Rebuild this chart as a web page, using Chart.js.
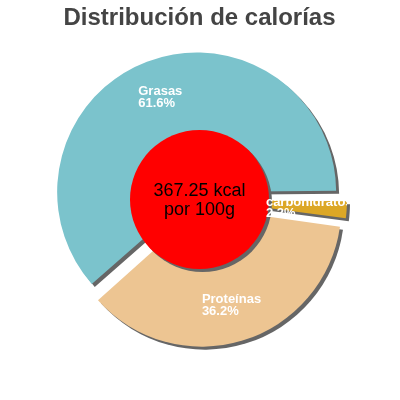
<!DOCTYPE html>
<html lang="es">
<head>
    <meta charset="UTF-8">
    <title>Distribución de calorías</title>
    <script src="https://cdn.jsdelivr.net/npm/chart.js"></script>
    <style>
        html, body { margin: 0; padding: 0; background: #fff; }
        #wrap { width: 400px; height: 400px; }
    </style>
</head>
<body>
    <div id="wrap"><canvas id="caloriesChart"></canvas></div>

    <script>
        // Data (clockwise from 3 o'clock)
        const categories = ['carbohidratos', 'Proteínas', 'Grasas'];
        const percentages = [2.2, 36.2, 61.6];
        const centerLines = ['367.25 kcal', 'por 100g'];
        const chartTitle = 'Distribución de calorías';

        const sliceColors = ['#dca726', '#edc592', '#7bc3cc'];
        const FONT = "'Liberation Sans', Arial, Helvetica, sans-serif";
        const RADIUS = 139.5;      // outer radius of the pie
        const SLICE_SHIFT = 8;     // how far each slice is pulled out
        const DISC_RADIUS = 69.5;  // red centre disc
        const LABEL_DIST = 110;    // label centre from pie centre
        const LABEL_CLIP_RIGHT = 347;

        function setShadow(chart, ctx) {
            const dpr = chart.currentDevicePixelRatio || 1;
            ctx.shadowColor = '#666666';
            ctx.shadowBlur = 0;
            ctx.shadowOffsetX = 3 * dpr;
            ctx.shadowOffsetY = 3 * dpr;
        }

        // Chart.js also grows a slice's radius when it is offset;
        // undo that so every slice keeps the same radius, and add the shadow
        const sliceLook = {
            id: 'sliceLook',
            beforeDatasetsDraw(chart) {
                chart.getDatasetMeta(0).data.forEach(arc => {
                    const fix = 1 - Math.sin(Math.min(Math.PI, arc.circumference));
                    arc.outerRadius = RADIUS - SLICE_SHIFT * fix;
                });
                chart.ctx.save();
                setShadow(chart, chart.ctx);
            },
            afterDatasetsDraw(chart) {
                chart.ctx.restore();
            }
        };

        const sliceLabels = {
            id: 'sliceLabels',
            afterDatasetsDraw(chart) {
                const ctx = chart.ctx;
                const arcs = chart.getDatasetMeta(0).data;
                const cx = arcs[0].x;
                const cy = arcs[0].y;

                // red centre disc
                ctx.save();
                setShadow(chart, ctx);
                ctx.beginPath();
                ctx.arc(cx, cy, DISC_RADIUS, 0, Math.PI * 2);
                ctx.fillStyle = '#ff0000';
                ctx.fill();
                ctx.restore();

                // slice labels
                ctx.save();
                ctx.beginPath();
                ctx.rect(0, 0, LABEL_CLIP_RIGHT, chart.height);
                ctx.clip();
                ctx.font = 'bold 13px ' + FONT;
                ctx.fillStyle = '#ffffff';
                ctx.textAlign = 'left';
                ctx.textBaseline = 'alphabetic';
                arcs.forEach((arc, i) => {
                    const mid = (arc.startAngle + arc.endAngle) / 2;
                    const lx = cx + Math.cos(mid) * LABEL_DIST;
                    const ly = cy + Math.sin(mid) * LABEL_DIST;
                    const lines = [categories[i], percentages[i].toFixed(1) + '%'];
                    const w = Math.max(...lines.map(t => ctx.measureText(t).width));
                    ctx.fillText(lines[0], lx - w / 2, ly - 1.3);
                    ctx.fillText(lines[1], lx - w / 2, ly + 10.4);
                });
                ctx.restore();

                // centre text
                ctx.save();
                ctx.font = '18px ' + FONT;
                ctx.fillStyle = '#000000';
                ctx.textAlign = 'center';
                ctx.textBaseline = 'alphabetic';
                ctx.fillText(centerLines[0], cx, cy - 3.5);
                ctx.fillText(centerLines[1], cx, cy + 15.5);
                ctx.restore();
            }
        };

        new Chart(document.getElementById('caloriesChart'), {
            type: 'pie',
            data: {
                labels: categories,
                datasets: [{
                    data: percentages,
                    backgroundColor: sliceColors,
                    borderWidth: 0,
                    offset: SLICE_SHIFT * 4
                }]
            },
            options: {
                responsive: true,
                maintainAspectRatio: false,
                animation: false,
                events: [],
                rotation: 90,
                radius: RADIUS,
                layout: {
                    padding: { top: 0, left: 0, right: 1, bottom: 33.8 }
                },
                plugins: {
                    legend: { display: false },
                    tooltip: { enabled: false },
                    title: {
                        display: true,
                        text: chartTitle,
                        color: '#444444',
                        font: { family: FONT, size: 24, weight: 'bold' },
                        padding: { top: 4, bottom: 0 }
                    }
                }
            },
            plugins: [sliceLook, sliceLabels]
        });
    </script>
</body>
</html>
